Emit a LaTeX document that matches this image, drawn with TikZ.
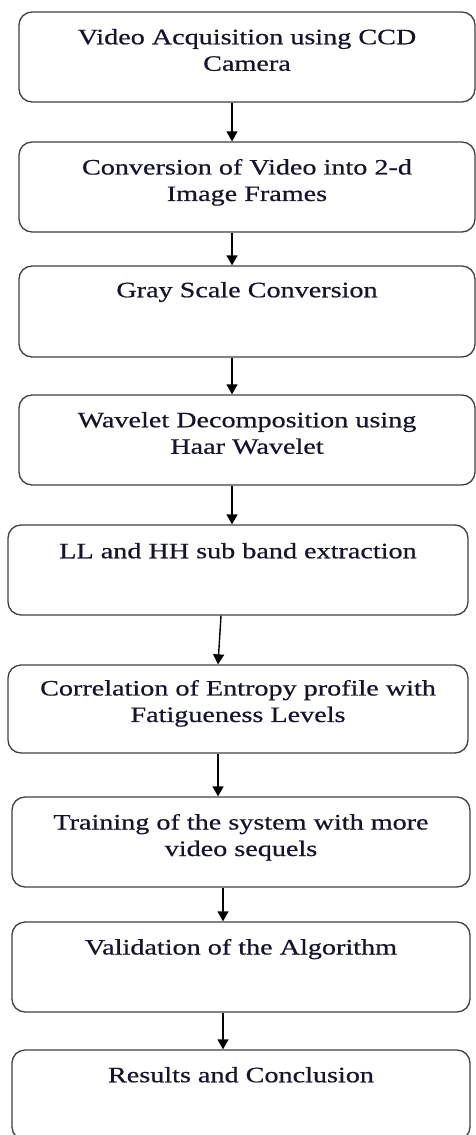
\documentclass[tikz,border=0pt]{standalone}
\usepackage{fontspec}
\setmainfont{Liberation Serif}[FakeStretch=1.28,FakeBold=0.6]
\usepackage{xcolor}
\usetikzlibrary{arrows.meta}
\definecolor{FCGray}{HTML}{404040}
\definecolor{FCNavy}{HTML}{14142A}
\newcommand{\stagefont}{\fontsize{22}{26.5}\selectfont}
\tikzset{
  stage/.style={draw=FCGray,line width=1.3pt,rounded corners=13pt,inner sep=0pt,text=FCNavy,font=\stagefont},
  flow/.style={draw=black,line width=1.4pt,-{Triangle[width=11pt,length=10pt]}}
}
\begin{document}
\begin{tikzpicture}[x=1pt,y=-1pt]
\path[use as bounding box] (0,0) rectangle (476,1135);
\node[stage] (acq) at (247,57) {\parbox[c][90pt][t]{456pt}{\centering\vspace*{17pt}Video Acquisition using CCD\\Camera}};
\node[stage] (frames) at (247,187) {\parbox[c][90pt][t]{456pt}{\centering\vspace*{17pt}Conversion of Video into 2-d\\Image Frames}};
\node[stage] (gray) at (247,311.5) {\parbox[c][91pt][t]{456pt}{\centering\vspace*{16pt}Gray Scale Conversion}};
\node[stage] (haar) at (247,440) {\parbox[c][90pt][t]{456pt}{\centering\vspace*{17pt}Wavelet Decomposition using\\Haar Wavelet}};
\node[stage] (band) at (238,570) {\parbox[c][90pt][t]{460pt}{\centering\vspace*{18pt}LL and HH sub band extraction}};
\node[stage] (entropy) at (238,709) {\parbox[c][88pt][t]{460pt}{\centering\vspace*{15pt}Correlation of Entropy profile with\\Fatigueness Levels}};
\node[stage] (train) at (241,842) {\parbox[c][90pt][t]{458pt}{\centering\vspace*{17pt}Training of the system with more\\video sequels}};
\node[stage] (valid) at (241,967) {\parbox[c][90pt][t]{458pt}{\centering\vspace*{17pt}Validation of the Algorithm}};
\node[stage] (result) at (241,1095) {\parbox[c][90pt][t]{458pt}{\centering\vspace*{17pt}Results and Conclusion}};
\draw[flow] ([xshift=-15pt]acq.south) -- ([xshift=-15pt]frames.north);
\draw[flow] ([xshift=-15pt]frames.south) -- ([xshift=-15pt]gray.north);
\draw[flow] ([xshift=-15pt]gray.south) -- ([xshift=-15pt]haar.north);
\draw[flow] ([xshift=-15pt]haar.south) -- ([xshift=-6pt]band.north);
\draw[flow] ([xshift=-17pt]band.south) -- ([xshift=-20pt]entropy.north);
\draw[flow] ([xshift=-20pt]entropy.south) -- ([xshift=-23pt]train.north);
\draw[flow] ([xshift=-18pt]train.south) -- ([xshift=-18pt]valid.north);
\draw[flow] ([xshift=-18pt]valid.south) -- ([xshift=-18pt]result.north);
\end{tikzpicture}
\end{document}
